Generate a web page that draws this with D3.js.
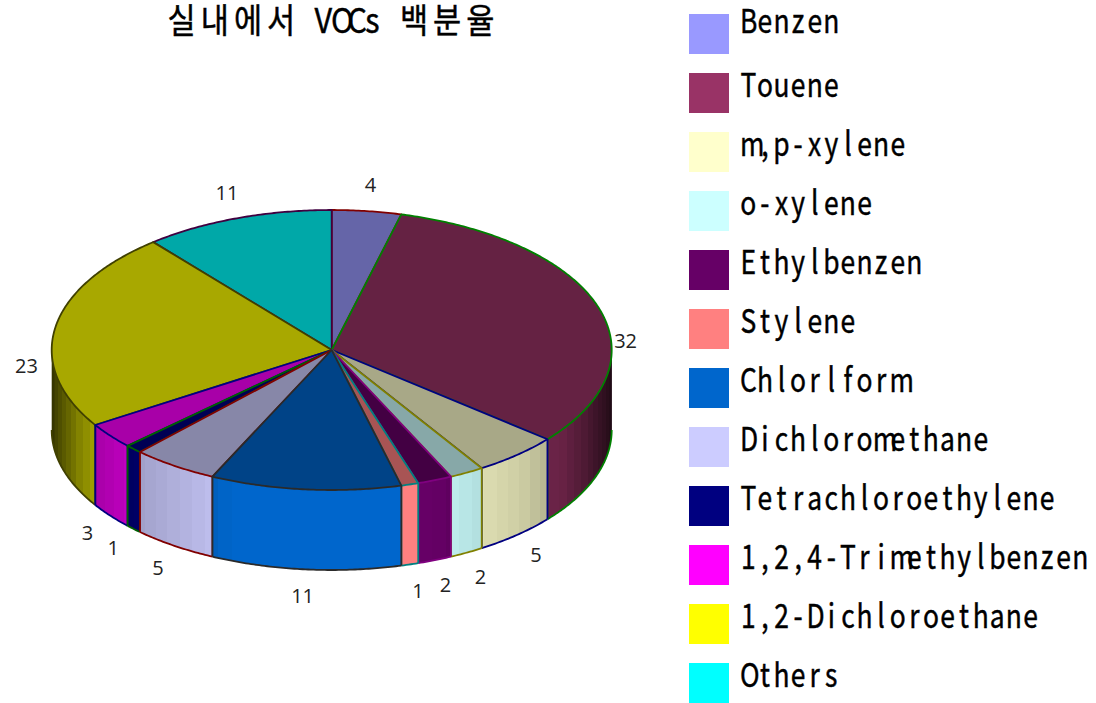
<!DOCTYPE html>
<html><head><meta charset="utf-8">
<script src="https://cdnjs.cloudflare.com/ajax/libs/d3/7.8.5/d3.min.js"></script>
<style>html,body{margin:0;padding:0;background:#fff}svg{display:block}</style>
</head><body><svg id="c" width="1096" height="703"></svg>
<script>
const titleText = "실내에서 VOCs 백분율";
const categories = ["Benzen","Touene","m,p-xylene","o-xylene","Ethylbenzen","Stylene","Chlorlform","Dichloromethane","Tetrachloroethylene","1,2,4-Trimethylbenzen","1,2-Dichloroethane","Others"];
const values = [4,32,5,2,2,1,11,5,1,3,23,11];
const colors = ["#9999ff","#993366","#ffffcc","#ccffff","#660066","#ff8080","#0066cc","#ccccff","#000080","#ff00ff","#ffff00","#00ffff"];
const outlines = ["#800000","#008000","#000080","#808000","#800080","#008080","#2a2a2a","#800000","#006000","#000080","#404000","#400040"];
const shadeStops = [0,.36,.425,.5,.68,.75,.825,.9,.97,1];
const shadeVals  = [1,1,.93,.89,.8,.73,.67,.52,.32,.2];

const cx=331.7, cy=350, rx=280, ry=140, depth=80;
const svg=d3.select("#c");
const pie=d3.pie().sort(null).value(d=>d.v)(values.map((v,i)=>({v,i})));
const shade=d3.scaleLinear().domain(shadeStops).range(shadeVals).clamp(true);
const px=a=>cx+rx*Math.sin(a), py=a=>cy-ry*Math.cos(a);
const mix=(c,m)=>{const r=d3.rgb(c);return d3.rgb(r.r*m,r.g*m,r.b*m).formatHex();};
const arcPts=(a0,a1,dy=0)=>{const n=Math.max(2,Math.ceil((a1-a0)/0.01));return d3.range(n+1).map(k=>{const a=a0+(a1-a0)*k/n;return [px(a),py(a)+dy];});};
const line=d3.line();

const order=pie.slice().sort((p,q)=>Math.cos((q.startAngle+q.endAngle)/2)-Math.cos((p.startAngle+p.endAngle)/2));
const defs=svg.append("defs");
const Q=Math.PI/2, H=Math.PI*1.5, stepA=3*Math.PI/180;
const gSlices=svg.append("g");
order.forEach(s=>{
  const i=s.data.i, g=gSlices.append("g");
  const a0=Math.max(s.startAngle,Q), a1=Math.min(s.endAngle,H);
  if(a1>a0){
    const top=arcPts(a0,a1,0), bot=arcPts(a0,a1,depth).reverse();
    const id="clip"+i;
    defs.append("clipPath").attr("id",id).append("path").attr("d",line(top.concat(bot))+"Z");
    const first=Math.floor((a0-Q)/stepA), last=Math.ceil((a1-Q)/stepA);
    g.append("g").attr("clip-path",`url(#${id})`).selectAll("rect")
      .data(d3.range(first,last)).join("rect")
      .attr("shape-rendering","crispEdges")
      .attr("x",k=>Math.min(px(Q+k*stepA),px(Q+(k+1)*stepA))-.3)
      .attr("width",k=>Math.abs(px(Q+k*stepA)-px(Q+(k+1)*stepA))+.6)
      .attr("y",cy-2).attr("height",ry+depth+4)
      .attr("fill",k=>mix(colors[i],shade(Math.abs(Math.sin(Q+(k+.5)*stepA)))));
    const st=g.append("g").attr("fill","none").attr("stroke",outlines[i]).attr("stroke-width",1.8);
    st.append("path").attr("d",line(arcPts(a0,a1,depth)));
    if(s.startAngle>=Q) st.append("path").attr("d",line([[px(a0),py(a0)],[px(a0),py(a0)+depth]]));
    if(s.endAngle<=H) st.append("path").attr("d",line([[px(a1),py(a1)],[px(a1),py(a1)+depth]]));
  }
  g.append("path").attr("d",line([[cx,cy]].concat(arcPts(s.startAngle,s.endAngle)))+"Z")
    .attr("fill",mix(colors[i],.66)).attr("stroke",outlines[i]).attr("stroke-width",1.8).attr("stroke-linejoin","round");
});

const lx=309, ly=167;
svg.append("g").selectAll("text").data(pie).join("text")
  .attr("x",s=>cx+lx*Math.sin((s.startAngle+s.endAngle)/2))
  .attr("y",s=>{const c=Math.cos((s.startAngle+s.endAngle)/2);const k=c>=.5?0:(c>-.5?.53:1);return cy-ly*c+depth*k;})
  .attr("dy","0.36em").attr("text-anchor","middle")
  .attr("font-family","'Open Sans',sans-serif").attr("font-size",20).attr("fill","#222")
  .text(s=>s.data.v);

const ctx=document.createElement("canvas").getContext("2d");
function cellText(str,x0,base,size,sx,weight){
  ctx.font=`${weight} ${size}px "Noto Sans CJK KR"`;
  const adv=16.6; let c=0; const xs=[];
  for(const ch of str){
    const cw=adv*(ch.charCodeAt(0)>0x2000?2:1);
    const w=ctx.measureText(ch).width*sx;
    xs.push((Math.max(c,c+(cw-w)/2)/sx).toFixed(2));
    c+=cw;
  }
  return svg.append("text").attr("transform",`translate(${x0},${base}) scale(${sx},1)`)
    .attr("x",xs.join(" ")).attr("y",0)
    .attr("font-family","'Noto Sans CJK KR',sans-serif").attr("font-size",size).attr("font-weight",weight)
    .attr("fill","#000").attr("stroke","#000").attr("stroke-width",.45).style("white-space","pre").text(str);
}
cellText(titleText,165,33,34,.9,400);

const yBox=d3.scalePoint().domain(d3.range(categories.length)).range([14,663]);
const legend=svg.append("g");
legend.selectAll("rect").data(categories).join("rect")
  .attr("x",689).attr("width",40).attr("height",40).attr("y",(d,i)=>yBox(i)).attr("fill",(d,i)=>colors[i]);
categories.forEach((c,i)=>cellText(c,740,i===0?33:yBox(i)+24,33,.8,400));
</script></body></html>
